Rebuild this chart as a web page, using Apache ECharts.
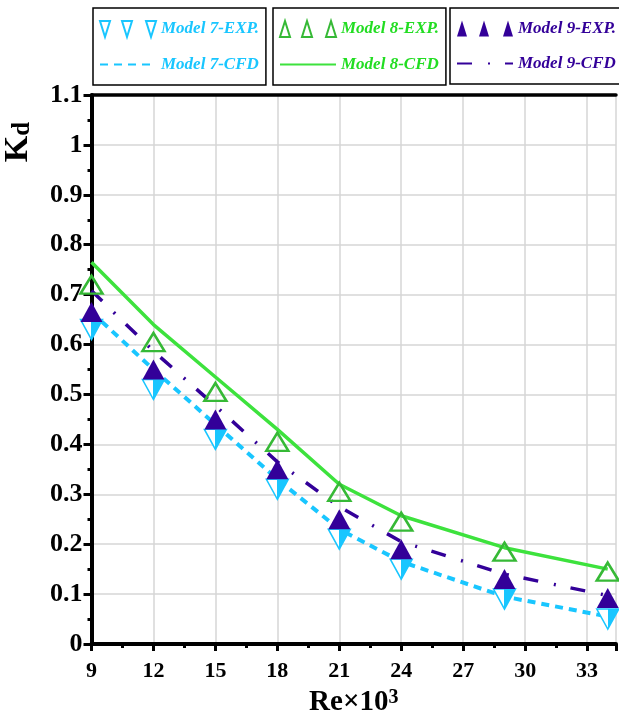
<!DOCTYPE html>
<html>
<head>
<meta charset="utf-8">
<script src="https://cdn.jsdelivr.net/npm/echarts@6/dist/echarts.min.js"></script>
<style>
html,body{margin:0;padding:0;background:#fff;}
#chart{width:619px;height:722px;}
</style>
</head>
<body>
<div id="chart"></div>
<script>
// Reynolds number ×10^3
var reValues = [9, 12, 15, 18, 21, 24, 29, 34];
var model7Exp = [0.63, 0.51, 0.41, 0.31, 0.21, 0.15, 0.09, 0.05];
var model7Cfd = [0.665, 0.55, 0.44, 0.33, 0.23, 0.165, 0.095, 0.055];
var model8Exp = [0.72, 0.605, 0.505, 0.405, 0.305, 0.245, 0.185, 0.145];
var model8Cfd = [0.765, 0.64, 0.535, 0.43, 0.32, 0.257, 0.193, 0.15];
var model9Exp = [0.665, 0.55, 0.45, 0.35, 0.25, 0.19, 0.13, 0.092];
var model9Cfd = [0.708, 0.587, 0.477, 0.365, 0.275, 0.205, 0.14, 0.097];
var seriesNames = ['Model 7-EXP.', 'Model 7-CFD', 'Model 8-EXP.', 'Model 8-CFD', 'Model 9-EXP.', 'Model 9-CFD'];

function pairs(xs, ys) { return xs.map(function (x, i) { return [x, ys[i]]; }); }

var CYAN = '#19c6ff', GREEN_M = '#36b936', GREEN_L = '#3de23d', PURPLE = '#330099';
var FONT = 'Liberation Serif';

var chart = echarts.init(document.getElementById('chart'), null, {renderer: 'canvas'});

// symbol is rotated 180°, so the cyan half is put first to end up on the right
var cyanFill = new echarts.graphic.LinearGradient(0, 0, 1, 0, [
  {offset: 0, color: CYAN}, {offset: 0.5, color: CYAN},
  {offset: 0.5, color: '#ffffff'}, {offset: 1, color: '#ffffff'}
]);

var triDown3 = 'path://M0,0 L10,0 L5,16 Z M22,0 L32,0 L27,16 Z M46,0 L56,0 L51,16 Z';
var triUp3 = 'path://M5,0 L10,16 L0,16 Z M27,0 L32,16 L22,16 Z M51,0 L56,16 L46,16 Z';
var noSymbol = {opacity: 0, borderWidth: 0};

function legendBox(left, items) {
  return {
    left: left, top: 8, orient: 'vertical',
    padding: [12, 7, 12, 6], itemGap: 18, itemWidth: 56, itemHeight: 16,
    borderColor: '#000', borderWidth: 1.5, symbolRotate: 0,
    textStyle: {fontFamily: FONT, fontStyle: 'italic', fontWeight: 'bold', fontSize: 17},
    data: items
  };
}

var option = {
  animation: false,
  backgroundColor: '#fff',
  grid: {left: 91.5, right: 0, top: 95, bottom: 77},
  legend: [
    legendBox(93, [
      {name: seriesNames[0], icon: triDown3, itemStyle: {color: 'rgba(255,255,255,0)', borderColor: CYAN, borderWidth: 2, opacity: 1}, textStyle: {color: CYAN}},
      {name: seriesNames[1], itemStyle: noSymbol, textStyle: {color: CYAN}}
    ]),
    legendBox(273, [
      {name: seriesNames[2], icon: triUp3, itemStyle: {color: 'rgba(255,255,255,0)', borderColor: GREEN_M, borderWidth: 2, opacity: 1}, textStyle: {color: '#22dd22'}},
      {name: seriesNames[3], itemStyle: noSymbol, textStyle: {color: '#22dd22'}}
    ]),
    legendBox(450, [
      {name: seriesNames[4], icon: triUp3, itemStyle: {color: PURPLE, opacity: 1}, textStyle: {color: PURPLE}},
      {name: seriesNames[5], itemStyle: noSymbol, textStyle: {color: PURPLE}}
    ])
  ],
  xAxis: [{
    type: 'value', min: 9, max: 34.4, interval: 3,
    name: '{a|Re×10}{s|3}', nameLocation: 'middle', nameGap: 44,
    nameTextStyle: {rich: {
      a: {fontFamily: FONT, fontWeight: 'bold', fontSize: 29, color: '#000', verticalAlign: 'bottom'},
      s: {fontFamily: FONT, fontWeight: 'bold', fontSize: 20, color: '#000', verticalAlign: 'top'}
    }},
    axisLine: {show: true, onZero: false, lineStyle: {color: '#000', width: 4}},
    axisTick: {show: true, length: 7, lineStyle: {color: '#000', width: 3}},
    minorTick: {show: true, splitNumber: 2, length: 4, lineStyle: {color: '#000', width: 3}},
    splitLine: {show: true, lineStyle: {color: '#d6d6d6', width: 1.5}},
    axisLabel: {
      margin: 16, color: '#000', fontFamily: FONT, fontWeight: 'bold', fontSize: 22,
      formatter: function (v) { return (Math.abs(v % 3) < 1e-6) ? String(v) : ''; }
    }
  }, {
    type: 'value', position: 'top', min: 9, max: 34.4,
    axisLine: {show: true, onZero: false, lineStyle: {color: '#000', width: 3.5}},
    axisTick: {show: false}, axisLabel: {show: false}, splitLine: {show: false}
  }],
  yAxis: {
    type: 'value', min: 0, max: 1.1, interval: 0.1,
    axisLine: {show: true, lineStyle: {color: '#000', width: 4}},
    axisTick: {show: true, length: 8, lineStyle: {color: '#000', width: 3}},
    minorTick: {show: true, splitNumber: 2, length: 4, lineStyle: {color: '#000', width: 3}},
    splitLine: {show: true, lineStyle: {color: '#d6d6d6', width: 1.5}},
    axisLabel: {margin: 9, color: '#000', fontFamily: FONT, fontWeight: 'bold', fontSize: 26,
      formatter: function (v) { return String(Math.round(v * 10) / 10); }}
  },
  graphic: [{
    type: 'text', x: 35, y: 142, rotation: Math.PI / 2,
    style: {
      text: '{k|K}{d|d}', align: 'center', verticalAlign: 'bottom',
      rich: {
        k: {fontFamily: FONT, fontWeight: 'bold', fontSize: 34, fill: '#000', verticalAlign: 'bottom'},
        d: {fontFamily: FONT, fontWeight: 'bold', fontSize: 25, fill: '#000', verticalAlign: 'bottom'}
      }
    }
  }],
  series: [
    {name: seriesNames[1], type: 'line', data: pairs(reValues, model7Cfd), symbol: 'none', z: 2,
      lineStyle: {color: CYAN, width: 4, type: [8, 6]}, itemStyle: {color: CYAN}},
    {name: seriesNames[3], type: 'line', data: pairs(reValues, model8Cfd), symbol: 'none', z: 2,
      lineStyle: {color: GREEN_L, width: 3.5, type: 'solid'}, itemStyle: {color: GREEN_L}},
    {name: seriesNames[5], type: 'line', data: pairs(reValues, model9Cfd), symbol: 'none', z: 2,
      lineStyle: {color: PURPLE, width: 3.5, type: [15, 16, 2, 15]}, itemStyle: {color: PURPLE}},
    {name: seriesNames[0], type: 'scatter', data: pairs(reValues, model7Exp), z: 3,
      symbol: 'triangle', symbolRotate: 180, symbolSize: [22, 20],
      itemStyle: {color: cyanFill, borderColor: CYAN, borderWidth: 1.5, opacity: 1}},
    {name: seriesNames[4], type: 'scatter', data: pairs(reValues, model9Exp), z: 4,
      symbol: 'triangle', symbolSize: [22, 20],
      itemStyle: {color: PURPLE, borderColor: PURPLE, borderWidth: 0, opacity: 1}},
    {name: seriesNames[2], type: 'scatter', data: pairs(reValues, model8Exp), z: 5,
      symbol: 'triangle', symbolSize: [22, 18],
      itemStyle: {color: 'rgba(255,255,255,0)', borderColor: GREEN_M, borderWidth: 2.5, opacity: 1}}
  ]
};
chart.setOption(option);
</script>
</body>
</html>
